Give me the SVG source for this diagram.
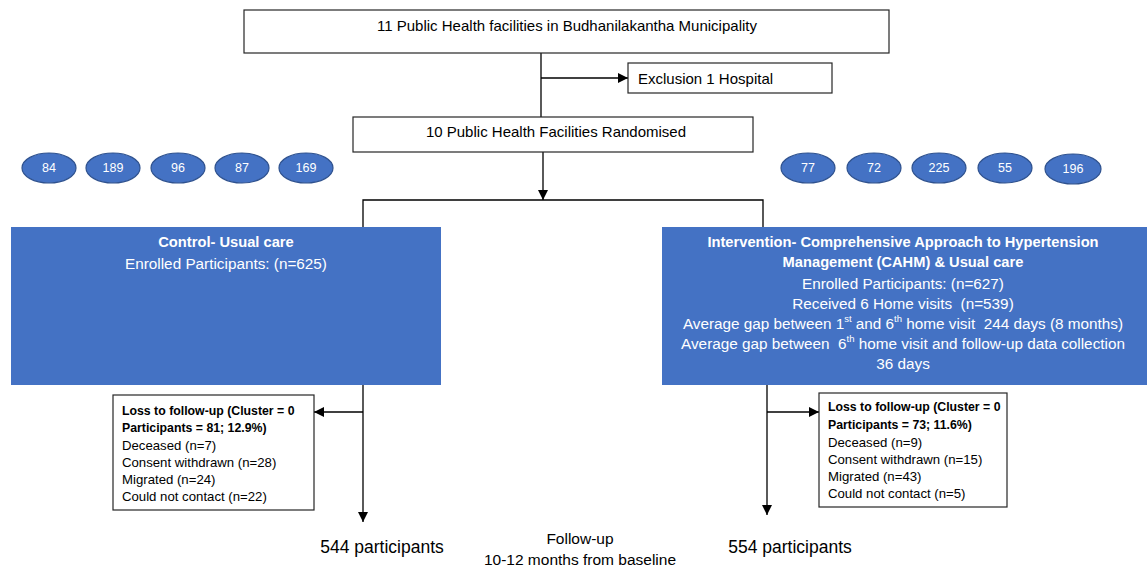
<svg xmlns="http://www.w3.org/2000/svg" width="1148" height="569" viewBox="0 0 1148 569">
<defs>
<marker id="arr" markerUnits="userSpaceOnUse" markerWidth="10" markerHeight="10" viewBox="0 0 10 10" refX="10" refY="5" orient="auto">
<path d="M0,0 L10,5 L0,10 z" fill="#000"/>
</marker>
<style>
text{font-family:"Liberation Sans",Arial,sans-serif;}
.box{fill:#fff;stroke:#262626;stroke-width:1.2;}
.blue{fill:#4472C4;stroke:none;}
.ell{fill:#4472C4;stroke:#2F528F;stroke-width:1.2;}
.et{fill:#fff;font-size:12.5px;text-anchor:middle;dominant-baseline:central;}
.wt{fill:#fff;font-size:15.3px;text-anchor:middle;dominant-baseline:central;}
.wb{fill:#fff;font-size:14.7px;font-weight:bold;text-anchor:middle;dominant-baseline:central;}
.bt{fill:#000;font-size:15px;dominant-baseline:central;}
.lt{fill:#000;font-size:13.2px;dominant-baseline:central;}
.lb{fill:#000;font-size:12.3px;font-weight:bold;dominant-baseline:central;}
.con{fill:none;stroke:#000;stroke-width:1.3;}
</style>
</defs>
<rect width="1148" height="569" fill="#fff"/>
<g id="connectors">
<path class="con" d="M541,53 V117"/>
<path class="con" d="M541,78 H628" marker-end="url(#arr)"/>
<path class="con" d="M543,152 V200" marker-end="url(#arr)"/>
<path class="con" d="M363,227 V200 H763 V227"/>
<path class="con" d="M363,385 V522" marker-end="url(#arr)"/>
<path class="con" d="M363,412 H314" marker-end="url(#arr)"/>
<path class="con" d="M767,385 V515" marker-end="url(#arr)"/>
<path class="con" d="M767,412 H819" marker-end="url(#arr)"/>
</g>
<g id="top">
<rect class="box" x="244" y="10" width="645" height="43"/>
<text class="bt" x="567" y="25" text-anchor="middle" font-size="15.7">11 Public Health facilities in Budhanilakantha Municipality</text>
</g>
<g id="exclusion">
<rect class="box" x="628" y="63" width="204" height="30"/>
<text class="bt" x="638" y="78">Exclusion 1 Hospital</text>
</g>
<g id="randomised">
<rect class="box" x="353" y="117" width="400" height="35"/>
<text class="bt" x="556" y="131" text-anchor="middle">10 Public Health Facilities Randomised</text>
</g>
<g id="clusters-control">
<ellipse class="ell" cx="49" cy="168" rx="27" ry="15"/><text class="et" x="49" y="168">84</text>
<ellipse class="ell" cx="113" cy="168" rx="27" ry="15"/><text class="et" x="113" y="168">189</text>
<ellipse class="ell" cx="178" cy="168" rx="27" ry="15"/><text class="et" x="178" y="168">96</text>
<ellipse class="ell" cx="242" cy="168" rx="27" ry="15"/><text class="et" x="242" y="168">87</text>
<ellipse class="ell" cx="306" cy="168" rx="27" ry="15"/><text class="et" x="306" y="168">169</text>
</g>
<g id="clusters-intervention">
<ellipse class="ell" cx="808" cy="168" rx="27" ry="15"/><text class="et" x="808" y="168">77</text>
<ellipse class="ell" cx="874" cy="168" rx="27" ry="15"/><text class="et" x="874" y="168">72</text>
<ellipse class="ell" cx="939" cy="168" rx="27" ry="15"/><text class="et" x="939" y="168">225</text>
<ellipse class="ell" cx="1005" cy="168" rx="27" ry="15"/><text class="et" x="1005" y="168">55</text>
<ellipse class="ell" cx="1073" cy="169" rx="28" ry="15"/><text class="et" x="1073" y="169">196</text>
</g>
<g id="control">
<rect class="blue" x="11" y="227" width="430" height="158"/>
<text class="wb" x="226" y="242">Control- Usual care</text>
<text class="wt" x="226" y="263">Enrolled Participants: (n=625)</text>
</g>
<g id="intervention">
<rect class="blue" x="662" y="227" width="485" height="158"/>
<text class="wb" x="903" y="242">Intervention- Comprehensive Approach to Hypertension</text>
<text class="wb" x="903" y="262">Management (CAHM) &amp; Usual care</text>
<text class="wt" x="903" y="283">Enrolled Participants: (n=627)</text>
<text class="wt" x="903" y="303" xml:space="preserve">Received 6 Home visits  (n=539)</text>
<text class="wt" x="903" y="323" xml:space="preserve">Average gap between 1<tspan font-size="9.5" dy="-5">st</tspan><tspan dy="5"> and 6</tspan><tspan font-size="9.5" dy="-5">th</tspan><tspan dy="5"> home visit  244 days (8 months)</tspan></text>
<text class="wt" x="903" y="343" xml:space="preserve">Average gap between  6<tspan font-size="9.5" dy="-5">th</tspan><tspan dy="5"> home visit and follow-up data collection</tspan></text>
<text class="wt" x="903" y="363">36 days</text>
</g>
<g id="loss-control">
<rect class="box" x="113" y="395" width="201" height="115"/>
<text class="lb" x="122" y="411">Loss to follow-up (Cluster = 0</text>
<text class="lb" x="122" y="428">Participants = 81; 12.9%)</text>
<text class="lt" x="122" y="445">Deceased (n=7)</text>
<text class="lt" x="122" y="462">Consent withdrawn (n=28)</text>
<text class="lt" x="122" y="479">Migrated (n=24)</text>
<text class="lt" x="122" y="496">Could not contact (n=22)</text>
</g>
<g id="loss-intervention">
<rect class="box" x="819" y="393" width="188" height="114"/>
<text class="lb" x="828" y="407">Loss to follow-up (Cluster = 0</text>
<text class="lb" x="828" y="425">Participants = 73; 11.6%)</text>
<text class="lt" x="828" y="442">Deceased (n=9)</text>
<text class="lt" x="828" y="459">Consent withdrawn (n=15)</text>
<text class="lt" x="828" y="476">Migrated (n=43)</text>
<text class="lt" x="828" y="493">Could not contact (n=5)</text>
</g>
<g id="outcome-control">
<text x="382" y="547" fill="#000" font-size="17.5" text-anchor="middle" dominant-baseline="central">544 participants</text>
</g>
<g id="outcome-intervention">
<text x="790" y="547" fill="#000" font-size="17.5" text-anchor="middle" dominant-baseline="central">554 participants</text>
</g>
<g id="followup">
<text x="580" y="538" fill="#000" font-size="15.5" text-anchor="middle" dominant-baseline="central">Follow-up</text>
<text x="580" y="559" fill="#000" font-size="15.5" text-anchor="middle" dominant-baseline="central">10-12 months from baseline</text>
</g>
</svg>
